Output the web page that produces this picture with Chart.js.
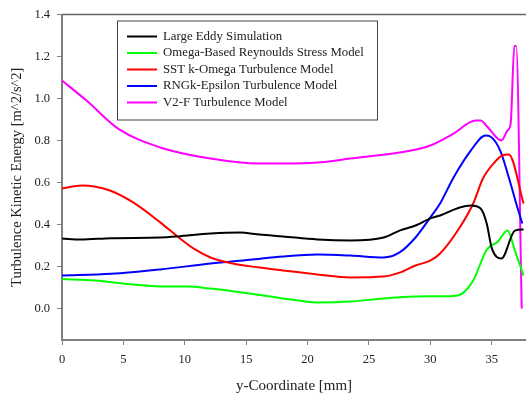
<!DOCTYPE html>
<html>
<head>
<meta charset="utf-8">
<script src="https://cdn.jsdelivr.net/npm/chart.js@4/dist/chart.umd.min.js"></script>
<style>
  html, body { margin: 0; padding: 0; background: #fff; }
  #wrap { width: 526px; height: 403px; }
</style>
</head>
<body>
<div id="wrap"><canvas id="tkeChart" width="526" height="403"></canvas></div>
<script>
// Turbulence kinetic energy profiles along the y-coordinate (mm)
const seriesNames = [
    'Large Eddy Simulation',
    'Omega-Based Reynoulds Stress Model',
    'SST k-Omega Turbulence Model',
    'RNGk-Epsilon Turbulence Model',
    'V2-F Turbulence Model'
];
const seriesColors = ['#000000', '#00ff00', '#ff0000', '#0000ff', '#ff00ff'];

const lesX = [0, 1.5, 4, 8, 9.4, 12.1, 14.5, 16.1, 18, 20.8, 23.5, 26.2, 27.5, 28.8, 30, 30.8, 32.4, 33.3, 34.1, 34.6, 35.0, 35.8, 36.9, 37.6];
const lesK = [0.333, 0.328, 0.335, 0.338, 0.343, 0.357, 0.362, 0.352, 0.343, 0.329, 0.324, 0.338, 0.371, 0.395, 0.429, 0.443, 0.481, 0.49, 0.476, 0.405, 0.29, 0.238, 0.371, 0.376];

const omegaX = [0, 2.7, 5.8, 8, 10.2, 12.1, 15.3, 18, 20.8, 23.5, 26.2, 28.8, 30, 31.9, 32.6, 33.5, 34.6, 35.5, 36.3, 36.9, 37.6];
const omegaK = [0.14, 0.133, 0.114, 0.105, 0.105, 0.095, 0.071, 0.048, 0.029, 0.033, 0.048, 0.057, 0.058, 0.06, 0.071, 0.133, 0.28, 0.318, 0.371, 0.276, 0.157];

const sstX = [0, 1.6, 3.9, 5.8, 8.0, 9.4, 10.7, 12.1, 13.9, 16.1, 18, 20.8, 23.5, 26.2, 27.5, 28.8, 30, 30.8, 32.4, 33.5, 34.3, 35.3, 35.9, 36.4, 37.6];
const sstK = [0.571, 0.586, 0.562, 0.505, 0.41, 0.343, 0.286, 0.243, 0.214, 0.195, 0.181, 0.162, 0.148, 0.152, 0.171, 0.205, 0.228, 0.262, 0.386, 0.5, 0.62, 0.7, 0.73, 0.733, 0.5];

const rngX = [0, 4, 8, 12.1, 15.3, 18, 20.8, 23.5, 26.2, 27.5, 28.8, 30, 30.8, 31.9, 33.3, 34.5, 34.9, 35.7, 36.4, 37.1, 37.5];
const rngK = [0.157, 0.165, 0.186, 0.214, 0.232, 0.248, 0.257, 0.252, 0.243, 0.267, 0.338, 0.433, 0.5, 0.624, 0.752, 0.824, 0.819, 0.752, 0.624, 0.481, 0.405];

const v2fX = [0, 2, 4.6, 8, 12.1, 16.1, 18, 20.8, 23.5, 27.5, 29.2, 30, 31.9, 33.7, 34.1, 34.7, 35.8, 36.3, 36.55, 36.85, 37.0, 37.45];
const v2fK = [1.086, 0.99, 0.855, 0.767, 0.714, 0.69, 0.69, 0.695, 0.714, 0.743, 0.762, 0.776, 0.833, 0.895, 0.895, 0.862, 0.8, 0.848, 0.88, 1.25, 1.25, 0.0];

const xTicks = [0, 5, 10, 15, 20, 25, 30, 35];
const yTicks = [0.0, 0.2, 0.4, 0.6, 0.8, 1.0, 1.2, 1.4];

const allX = [lesX, omegaX, sstX, rngX, v2fX];
const allK = [lesK, omegaK, sstK, rngK, v2fK];

const axisGray = '#7f7f7f';
const textColor = '#222222';
const serif = "'Liberation Serif', 'Times New Roman', serif";

// box legend drawn inside the plot area
const legendBox = {
    id: 'legendBox',
    afterDraw(chart) {
        const ctx = chart.ctx;
        const area = chart.chartArea;
        const left = area.left + 55;
        const top = area.top + 6;
        ctx.save();
        ctx.fillStyle = '#ffffff';
        ctx.fillRect(left, top, 260, 99);
        ctx.strokeStyle = '#444444';
        ctx.lineWidth = 1;
        ctx.strokeRect(left + 0.5, top + 0.5, 260, 99);
        ctx.font = '12.8px ' + serif;
        ctx.textBaseline = 'middle';
        ctx.fillStyle = textColor;
        chart.data.datasets.forEach((ds, i) => {
            const y = top + 16 + i * 16.5;
            ctx.strokeStyle = ds.borderColor;
            ctx.lineWidth = 2;
            ctx.beginPath();
            ctx.moveTo(left + 10, y);
            ctx.lineTo(left + 40, y);
            ctx.stroke();
            ctx.fillText(ds.label, left + 46, y);
        });
        ctx.restore();
    }
};

// frame line along the top of the plot
const topFrame = {
    id: 'topFrame',
    afterDraw(chart) {
        const ctx = chart.ctx;
        const area = chart.chartArea;
        ctx.save();
        ctx.strokeStyle = '#666666';
        ctx.lineWidth = 1.5;
        ctx.beginPath();
        ctx.moveTo(area.left, area.top);
        ctx.lineTo(area.right, area.top);
        ctx.stroke();
        ctx.restore();
    }
};

const ctx = document.getElementById('tkeChart').getContext('2d');
const tkeChart = new Chart(ctx, {
    type: 'line',
    data: {
        datasets: seriesNames.map((name, i) => ({
            label: name,
            data: allX[i].map((x, j) => ({ x: x, y: allK[i][j] })),
            borderColor: seriesColors[i],
            backgroundColor: seriesColors[i],
            borderWidth: 2,
            pointRadius: 0,
            fill: false,
            cubicInterpolationMode: 'monotone'
        }))
    },
    options: {
        responsive: false,
        animation: false,
        layout: { padding: { top: 13, right: 0, bottom: 0, left: 0 } },
        plugins: {
            legend: { display: false },
            tooltip: { enabled: false }
        },
        scales: {
            x: {
                type: 'linear',
                min: 0,
                max: 37.8,
                afterBuildTicks: (scale) => { scale.ticks = xTicks.map(v => ({ value: v })); },
                afterFit: (scale) => { scale.height = 63; },
                grid: { display: true, drawOnChartArea: false, drawTicks: true, tickLength: 5, color: axisGray },
                border: { display: true, color: axisGray, width: 2 },
                ticks: { color: textColor, padding: 7, font: { family: serif, size: 12.5 }, maxRotation: 0 },
                title: { display: true, text: 'y-Coordinate [mm]', color: textColor, font: { family: serif, size: 15 }, padding: { top: 0, bottom: 8 } }
            },
            y: {
                min: -0.15,
                max: 1.4,
                afterBuildTicks: (scale) => { scale.ticks = yTicks.map(v => ({ value: v })); },
                afterFit: (scale) => { scale.width = 62; },
                grid: { display: true, drawOnChartArea: false, drawTicks: true, tickLength: 5, color: axisGray },
                border: { display: true, color: axisGray, width: 2 },
                ticks: { color: textColor, padding: 7, font: { family: serif, size: 12.5 }, callback: (v) => Number(v).toFixed(1) },
                title: { display: true, text: 'Turbulence Kinetic Energy [m^2/s^2]', color: textColor, font: { family: serif, size: 14.5 }, padding: { top: 8, bottom: 0 } }
            }
        }
    },
    plugins: [legendBox, topFrame]
});
</script>
</body>
</html>
